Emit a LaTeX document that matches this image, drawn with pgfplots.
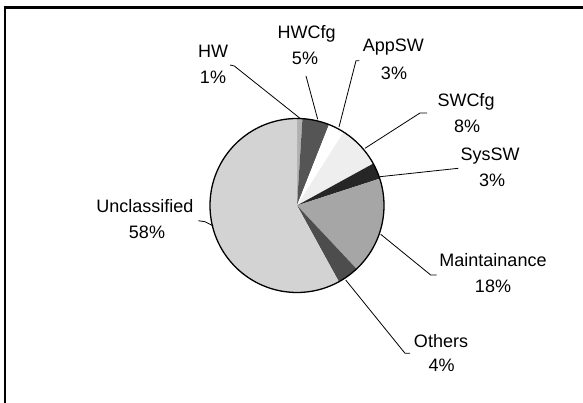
\documentclass[border=0pt]{standalone}
\usepackage{fontspec}
\setmainfont{Liberation Sans}
\usepackage{pgfplots}
\usepackage{pgfplotstable}
\pgfplotsset{compat=1.18}

\definecolor{slice0}{HTML}{B0B0B0}
\definecolor{slice1}{HTML}{555555}
\definecolor{slice2}{HTML}{FFFFFF}
\definecolor{slice3}{HTML}{EEEEEE}
\definecolor{slice4}{HTML}{262626}
\definecolor{slice5}{HTML}{A6A6A6}
\definecolor{slice6}{HTML}{4D4D4D}
\definecolor{slice7}{HTML}{D3D3D3}

\pgfplotstableread{
label pct
HW 1
HWCfg 5
AppSW 3
SWCfg 8
SysSW 3
Maintainance 18
Others 4
Unclassified 58
}\piedata

\tikzset{lbl/.style={anchor=base, font=\fontsize{18}{22}\selectfont, text=black, inner sep=0pt}}

\begin{document}
\begin{tikzpicture}
\def\cx{297}\def\cy{197.5}\def\rr{87}
\def\cum{0}
\pgfplotsforeachungrouped \i in {0,...,7}{%
  \pgfplotstablegetelem{\i}{pct}\of\piedata
  \pgfmathsetmacro\myA{90-3.6*\cum}%
  \pgfmathsetmacro\cum{\cum+\pgfplotsretval}%
  \pgfmathsetmacro\myB{90-3.6*\cum}%
  \expandafter\xdef\csname sa\i\endcsname{\myA}%
  \expandafter\xdef\csname se\i\endcsname{\myB}%
}
\begin{axis}[
  scale only axis, width=583pt, height=403pt,
  xmin=0, xmax=583, ymin=0, ymax=403,
  hide axis, clip=false,
]
\pgfplotsforeachungrouped \i in {0,...,7}{%
  \edef\temp{\noexpand\addplot[fill=slice\i, draw=none, domain=\csname se\i\endcsname:\csname sa\i\endcsname, samples=60, variable=\noexpand\t] ({\cx+\rr*cos(\noexpand\t)},{\cy+\rr*sin(\noexpand\t)}) -- (axis cs:\cx,\cy) -- cycle;}%
  \temp
}
\draw[black, line width=1.3pt] (axis cs:\cx,\cy) circle[radius=\rr];

% leader lines
\draw[line width=0.8pt] (axis cs:230,338) -- (axis cs:234.3,337) -- (axis cs:300,284.7);
\draw[line width=0.8pt] (axis cs:306,327) -- (axis cs:317.7,283.7);
\draw[line width=0.8pt] (axis cs:359.3,342.3) -- (axis cs:356,342.3) -- (axis cs:339,276);
\draw[line width=0.8pt] (axis cs:427,290) -- (axis cs:420,290) -- (axis cs:365,254.7);
\draw[line width=0.8pt] (axis cs:380,226.3) -- (axis cs:458.3,234.7);
\draw[line width=0.8pt] (axis cs:380.7,168.7) -- (axis cs:430.7,128) -- (axis cs:436.7,128);
\draw[line width=0.8pt] (axis cs:345.7,123) -- (axis cs:405,49.7) -- (axis cs:410,49.7);
\draw[line width=0.8pt] (axis cs:198.3,182.3) -- (axis cs:205,181.3) -- (axis cs:213.3,177);

% labels
\node[lbl] at (axis cs:213,345) {HW};
\node[lbl] at (axis cs:213,319) {1\%};
\node[lbl] at (axis cs:306.7,364) {HWCfg};
\node[lbl] at (axis cs:305,338) {5\%};
\node[lbl] at (axis cs:393.3,351.3) {AppSW};
\node[lbl] at (axis cs:394,323.7) {3\%};
\node[lbl] at (axis cs:466,296.5) {SWCfg};
\node[lbl] at (axis cs:467,270.5) {8\%};
\node[lbl] at (axis cs:490,242.5) {SysSW};
\node[lbl] at (axis cs:492,216) {3\%};
\node[lbl] at (axis cs:493,136.3) {Maintainance};
\node[lbl] at (axis cs:493,110) {18\%};
\node[lbl] at (axis cs:441,55.7) {Others};
\node[lbl] at (axis cs:441.7,31.3) {4\%};
\node[lbl] at (axis cs:145,190.3) {Unclassified};
\node[lbl] at (axis cs:147,164) {58\%};
\end{axis}
% frame (cropped at right and bottom, as in the reference)
\draw[black, line width=2.2pt] (5pt,-20pt) rectangle (620pt,395.5pt);
\pgfresetboundingbox
\useasboundingbox (0,0) rectangle (583pt,403pt);
\end{tikzpicture}
\end{document}
